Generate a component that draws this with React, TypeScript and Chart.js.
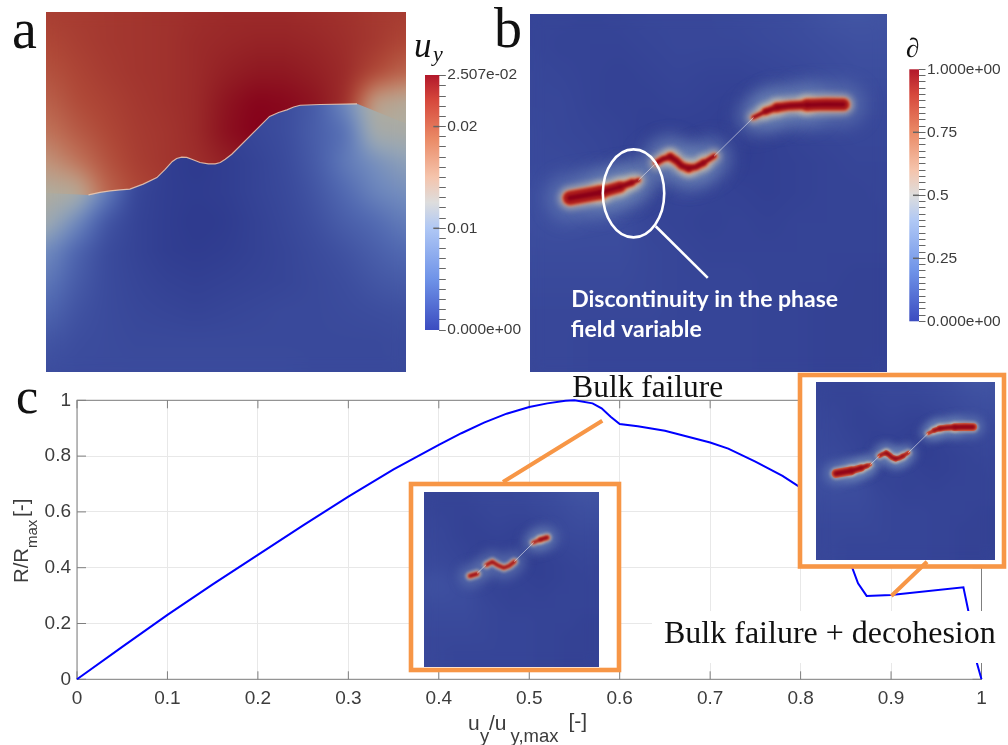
import React, { useEffect, useRef } from "react";
import { Chart, registerables } from "chart.js";

Chart.register(...registerables);

// ---------- Panel c: reaction curve ----------
const curveX = [0, 0.05, 0.1, 0.15, 0.2, 0.25, 0.3, 0.35, 0.4, 0.425, 0.45, 0.475, 0.5, 0.52, 0.54, 0.55, 0.57, 0.58, 0.59, 0.6, 0.62, 0.65, 0.7, 0.72, 0.75, 0.78, 0.8, 0.81, 0.82, 0.84, 0.855, 0.8635, 0.873, 0.9, 0.98, 0.986, 0.995, 1];
const curveY = [0, 0.116, 0.231, 0.34, 0.446, 0.552, 0.655, 0.752, 0.84, 0.882, 0.92, 0.952, 0.976, 0.989, 0.998, 1, 0.989, 0.971, 0.941, 0.915, 0.907, 0.891, 0.849, 0.827, 0.78, 0.729, 0.687, 0.665, 0.635, 0.54, 0.418, 0.344, 0.299, 0.302, 0.33, 0.237, 0.057, 0];

// ---------- Panel a: displacement field (colour position 0..1), grid of 13 x 13 ----------
const upperField = [
  [.83,.84,.85,.86,.87,.88,.89,.89,.89,.88,.87,.85,.84],
  [.80,.83,.85,.86,.87,.89,.90,.91,.91,.90,.88,.85,.80],
  [.77,.81,.84,.86,.87,.89,.92,.94,.94,.92,.89,.80,.72],
  [.73,.79,.82,.85,.87,.89,.95,.99,.98,.95,.88,.56,.52],
  [.68,.75,.80,.84,.86,.89,.96,1,.98,.94,.85,.50,.48],
  [.60,.68,.77,.83,.86,.88,.92,.95,.95,.90,.80,.50,.48],
  [.50,.52,.72,.80,.84,.86,.88,.90,.90,.88,.80,.50,.48],
  [.50,.52,.72,.80,.84,.86,.88,.90,.90,.88,.80,.50,.48],
  [.50,.52,.72,.80,.84,.86,.88,.90,.90,.88,.80,.50,.48],
  [.50,.52,.72,.80,.84,.86,.88,.90,.90,.88,.80,.50,.48],
  [.50,.52,.72,.80,.84,.86,.88,.90,.90,.88,.80,.50,.48],
  [.50,.52,.72,.80,.84,.86,.88,.90,.90,.88,.80,.50,.48],
  [.50,.52,.72,.80,.84,.86,.88,.90,.90,.88,.80,.50,.48],
];
const lowerField = [
  [.5,.48,.3,.1,.02,.02,.05,.08,.1,.15,.3,.5,.5],
  [.5,.48,.3,.1,.02,.02,.05,.08,.1,.15,.3,.5,.5],
  [.5,.48,.3,.1,.02,.02,.05,.08,.1,.15,.3,.5,.5],
  [.5,.48,.3,.1,.02,.02,.05,.08,.1,.15,.3,.5,.5],
  [.5,.48,.32,.12,.04,.02,.04,.07,.10,.16,.22,.46,.47],
  [.5,.48,.3,.1,.02,0,.02,.05,.09,.15,.25,.32,.38],
  [.5,.47,.26,.06,.02,.01,.02,.05,.08,.13,.2,.28,.32],
  [.44,.30,.13,.05,.02,0,.01,.04,.07,.11,.16,.2,.26],
  [.31,.18,.09,.05,.02,.01,.02,.04,.06,.09,.12,.16,.2],
  [.25,.15,.09,.06,.04,.03,.04,.05,.06,.08,.10,.13,.15],
  [.19,.12,.09,.07,.06,.05,.06,.07,.08,.08,.09,.1,.11],
  [.13,.1,.09,.08,.08,.08,.08,.08,.08,.08,.08,.08,.09],
  [.1,.09,.09,.09,.09,.09,.09,.09,.09,.08,.08,.08,.08],
];
const crackA = [[.118,.508],[.15,.501],[.178,.497],[.206,.494],[.233,.492],[.27,.478],[.308,.460],[.331,.437],[.351,.415],[.363,.407],[.377,.403],[.391,.404],[.405,.409],[.428,.418],[.451,.422],[.470,.422],[.484,.418],[.498,.409],[.516,.395],[.621,.290],[.646,.279],[.669,.272],[.688,.264],[.706,.259],[.762,.257],[.864,.255]];
const crackLeftEnd = [0, .503];
const crackRightEnd = [1, .31];

// ---------- Panel b: phase field background and damage bands ----------
const phaseField = [
  [.06,.06,.05,.06,.07,.07,.07,.08,.09,.10,.12,.13,.12],
  [.06,.05,.05,.05,.06,.07,.07,.07,.08,.09,.10,.11,.11],
  [.07,.06,.05,.04,.05,.06,.05,.05,.06,.07,.09,.10,.10],
  [.07,.07,.05,.04,.04,.05,.04,.03,.05,.08,.08,.08,.08],
  [.08,.07,.06,.05,.03,.03,.03,.01,.03,.05,.06,.07,.07],
  [.08,.08,.07,.05,.02,.05,.06,.02,.03,.04,.05,.06,.06],
  [.10,.12,.09,.08,.03,.06,.05,.04,.03,.04,.05,.05,.06],
  [.10,.11,.10,.10,.06,.05,.04,.05,.04,.05,.05,.05,.05],
  [.09,.09,.09,.09,.07,.06,.05,.05,.05,.05,.05,.05,.05],
  [.08,.08,.08,.08,.07,.06,.06,.06,.05,.05,.05,.04,.04],
  [.07,.07,.07,.07,.07,.06,.06,.06,.05,.05,.04,.04,.04],
  [.07,.07,.06,.06,.06,.06,.06,.06,.05,.05,.04,.04,.04],
  [.07,.07,.06,.06,.06,.06,.06,.06,.05,.05,.04,.04,.05],
];
const bandsB = [
  { pts: [[.112,.514],[.196,.499]], w: 13 },
  { pts: [[.196,.499],[.252,.483]], w: 10 },
  { pts: [[.252,.483],[.285,.471]], w: 6 },
  { pts: [[.285,.471],[.304,.464]], w: 3 },
  { pts: [[.355,.415],[.372,.405],[.393,.399]], w: 5 },
  { pts: [[.393,.399],[.41,.41],[.425,.424],[.444,.431]], w: 7 },
  { pts: [[.444,.431],[.465,.427],[.486,.416]], w: 6 },
  { pts: [[.486,.416],[.516,.397]], w: 4 },
  { pts: [[.626,.289],[.66,.272]], w: 3 },
  { pts: [[.66,.272],[.692,.261]], w: 6 },
  { pts: [[.692,.261],[.73,.256],[.776,.254]], w: 8 },
  { pts: [[.776,.254],[.83,.252],[.878,.253]], w: 11 },
];
const bandsSmall = [
  { pts: [[.262,.48],[.303,.468]], w: 3 },
  { pts: [[.357,.417],[.39,.398],[.42,.418],[.456,.434],[.487,.422],[.517,.398]], w: 2.5 },
  { pts: [[.624,.289],[.665,.272]], w: 2 },
  { pts: [[.665,.272],[.704,.26]], w: 3.5 },
];
const gapB = [[.304,.464],[.355,.415]];
const gapB2 = [[.516,.397],[.626,.289]];
const pointerLine = [[.352,.593],[.498,.737]];
const noteLines = ["Discontinuity in the phase", "field variable"];

// ---------- Colour bars ----------
const barATicks = [0,.001,.002,.003,.004,.005,.006,.007,.008,.009,.01,.011,.012,.013,.014,.015,.016,.017,.018,.019,.02,.021,.022,.023,.024,.02507];
const barALabels: Record<string,string> = { "0":"0.000e+00", "0.01":"0.01", "0.02":"0.02", "0.02507":"2.507e-02" };
const barBTicks = [0,.025,.05,.075,.1,.125,.15,.175,.2,.225,.25,.275,.3,.325,.35,.375,.4,.425,.45,.475,.5,.525,.55,.575,.6,.625,.65,.675,.7,.725,.75,.775,.8,.825,.85,.875,.9,.925,.95,.975,1];
const barBLabels: Record<string,string> = { "0":"0.000e+00", "0.25":"0.25", "0.5":"0.5", "0.75":"0.75", "1":"1.000e+00" };

const fieldStops: [number, number[]][] = [
  [0,[46,58,142]],[.1,[60,77,158]],[.2,[82,106,178]],[.3,[112,138,190]],[.4,[150,166,182]],[.5,[176,172,158]],
  [.6,[192,150,125]],[.7,[190,110,85]],[.8,[175,72,55]],[.87,[160,50,45]],[.93,[145,28,35]],[1,[133,0,26]],
];
const barStops: [number, string][] = [
  [0,"#3b4cc0"],[.2,"#6f93e8"],[.4,"#b0c8f5"],[.5,"#dddddd"],[.6,"#f5c4ac"],[.75,"#ea8a66"],[.9,"#d6483c"],[1,"#b2182b"],
];

const SANS = '"Liberation Sans", Arial, sans-serif';
const SERIF = '"Liberation Serif", serif';
const ORANGE = "#f79646";
const TEXT = "#3c3c3c";

function fieldColor(t: number) {
  for (let i = 1; i < fieldStops.length; i++) {
    if (t <= fieldStops[i][0]) {
      const [a, ca] = fieldStops[i - 1];
      const [b, cb] = fieldStops[i];
      const f = (t - a) / (b - a);
      return ca.map((c, k) => c + (cb[k] - c) * f);
    }
  }
  return fieldStops[fieldStops.length - 1][1];
}

function fieldImage(grid: number[][], w: number, h: number) {
  const c = document.createElement("canvas");
  c.width = w; c.height = h;
  const ctx = c.getContext("2d")!;
  const img = ctx.createImageData(w, h);
  const rows = grid.length, cols = grid[0].length;
  for (let y = 0; y < h; y++) {
    const gy = (y / (h - 1)) * (rows - 1);
    const r0 = Math.min(Math.floor(gy), rows - 2), fy = gy - r0;
    for (let x = 0; x < w; x++) {
      const gx = (x / (w - 1)) * (cols - 1);
      const c0 = Math.min(Math.floor(gx), cols - 2), fx = gx - c0;
      const v = (grid[r0][c0] * (1 - fx) + grid[r0][c0 + 1] * fx) * (1 - fy) + (grid[r0 + 1][c0] * (1 - fx) + grid[r0 + 1][c0 + 1] * fx) * fy;
      const col = fieldColor(v);
      const i = (y * w + x) * 4;
      img.data[i] = col[0]; img.data[i + 1] = col[1]; img.data[i + 2] = col[2]; img.data[i + 3] = 255;
    }
  }
  ctx.putImageData(img, 0, 0);
  // soften the grid creases
  const s = document.createElement("canvas");
  s.width = w; s.height = h;
  const sc = s.getContext("2d")!;
  sc.drawImage(c, 0, 0);
  sc.filter = "blur(7px)";
  sc.drawImage(c, 0, 0);
  return s;
}

const toXY = (pts: number[][]) => pts.map(([x, y]) => ({ x, y }));
const unitScales = {
  x: { type: "linear", min: 0, max: 1, display: false },
  y: { type: "linear", min: 0, max: 1, reverse: true, display: false },
};
const baseOptions = (scales: any, layout?: any) => ({
  responsive: false,
  animation: false,
  events: [],
  scales,
  layout: { padding: layout ?? 0 },
  elements: { point: { radius: 0 } },
  plugins: { legend: { display: false }, title: { display: false }, tooltip: { enabled: false } },
});

function bandDatasets(bands: { pts: number[][]; w: number }[], k: number, wk: number) {
  const layers = [
    { extra: 32 * k, color: "rgba(125,150,190,0.42)", blur: 9 * k, order: 5, mul: 1 },
    { extra: 10 * k, color: "rgba(225,210,175,0.55)", blur: 3 * k, order: 4, mul: 1 },
    { extra: 3.5 * k, color: "#d9744f", blur: 1.5 * k, order: 3, mul: 1 },
    { extra: 0, color: "#ad1c1c", blur: 1, order: 2, mul: 1 },
    { extra: 0, color: "#8b0018", blur: 1, order: 1, mul: 0.4 },
  ];
  const out: any[] = [];
  layers.forEach((l) =>
    bands.forEach((b) =>
      out.push({
        data: toXY(b.pts),
        showLine: true,
        borderColor: l.color,
        borderWidth: b.w * wk * l.mul + l.extra,
        borderCapStyle: "round",
        borderJoinStyle: "round",
        pointRadius: 0,
        blur: l.blur,
        order: l.order,
      })
    )
  );
  return out;
}

const blurPlugin = {
  id: "bandBlur",
  beforeDatasetDraw(chart: any, args: any) {
    const b = chart.data.datasets[args.index].blur;
    if (b) chart.ctx.filter = `blur(${b}px)`;
  },
  afterDatasetDraw(chart: any) {
    chart.ctx.filter = "none";
  },
};

function thinLine(pts: number[][], color: string, width: number) {
  return { data: toXY(pts), showLine: true, borderColor: color, borderWidth: width, pointRadius: 0, order: 0 };
}

function phaseChart(canvas: HTMLCanvasElement, bands: any, k: number, wk: number, extraData: any[], extraPlugins: any[]) {
  const img = fieldImage(phaseField, canvas.width, canvas.height);
  return new Chart(canvas, {
    type: "scatter",
    data: {
      datasets: [
        ...extraData,
        thinLine(gapB, "rgba(225,225,235,0.8)", 0.8),
        thinLine(gapB2, "rgba(225,225,235,0.8)", 0.8),
        ...bandDatasets(bands, k, wk),
      ],
    },
    options: baseOptions(unitScales) as any,
    plugins: [
      { id: "phaseBg", beforeDatasetsDraw(c: any) { c.ctx.drawImage(img, 0, 0); } },
      blurPlugin,
      ...extraPlugins,
    ],
  } as any);
}

function colorBar(canvas: HTMLCanvasElement, max: number, ticks: number[], labels: Record<string,string>, pad: any, title: (ctx: CanvasRenderingContext2D) => void) {
  return new Chart(canvas, {
    type: "scatter",
    data: { datasets: [{ data: [] }] },
    options: baseOptions(
      {
        x: { type: "linear", display: false, min: 0, max: 1 },
        y: {
          type: "linear",
          position: "right",
          min: 0,
          max,
          afterBuildTicks(s: any) { s.ticks = ticks.map((value) => ({ value })); },
          afterFit(s: any) { s.width = pad.axis; },
          border: { display: false },
          grid: { drawOnChartArea: false, drawTicks: true, tickLength: 6.5, tickColor: "#666", tickWidth: 1 },
          ticks: {
            autoSkip: false,
            padding: 1.5,
            color: TEXT,
            font: { family: SANS, size: 15.5 },
            callback: (v: number) => labels[String(v)] ?? "",
          },
        },
      },
      { left: pad.left, top: pad.top, bottom: pad.bottom, right: 0 }
    ) as any,
    plugins: [
      {
        id: "barFill",
        beforeDatasetsDraw(c: any) {
          const { left, right, top, bottom } = c.chartArea;
          const g = c.ctx.createLinearGradient(0, bottom, 0, top);
          barStops.forEach(([p, col]) => g.addColorStop(p, col));
          c.ctx.fillStyle = g;
          c.ctx.fillRect(left, top, right - left, bottom - top);
          c.ctx.strokeStyle = "#666";
          Object.keys(labels).forEach((k) => {
            const y = c.scales.y.getPixelForValue(Number(k));
            if (k === "0" || Number(k) === max) return;
            c.ctx.beginPath();
            c.ctx.moveTo(right - 6, y);
            c.ctx.lineTo(right, y);
            c.ctx.lineWidth = 1.5;
            c.ctx.stroke();
          });
          title(c.ctx);
        },
      },
    ],
  } as any);
}

function mainChart(canvas: HTMLCanvasElement) {
  const sub = (ctx: CanvasRenderingContext2D, parts: [string, string, number, number][]) => {
    parts.forEach(([t, font, x, y]) => { ctx.font = font; ctx.fillText(t, x, y); });
  };
  return new Chart(canvas, {
    type: "scatter",
    data: {
      datasets: [{
        data: curveX.map((x, i) => ({ x, y: curveY[i] })),
        showLine: true,
        borderColor: "#0000ff",
        borderWidth: 2,
        pointRadius: 0,
        tension: 0,
        clip: false,
      }],
    },
    options: baseOptions(
      {
        x: {
          type: "linear", min: 0, max: 1,
          afterFit(s: any) { s.height = 65.7; },
          border: { display: false },
          grid: { color: "#e8e8e8", lineWidth: 1, drawTicks: false },
          ticks: { stepSize: 0.1, padding: 8, color: TEXT, font: { family: SANS, size: 19 }, maxRotation: 0, callback: (v: number) => String(+v.toFixed(1)) },
        },
        y: {
          type: "linear", min: 0, max: 1,
          afterFit(s: any) { s.width = 77; },
          border: { display: false },
          grid: { color: "#e8e8e8", lineWidth: 1, drawTicks: false },
          ticks: { stepSize: 0.2, padding: 6, color: TEXT, font: { family: SANS, size: 19 }, callback: (v: number) => String(+v.toFixed(1)) },
        },
      },
      { left: 0, top: 400.3, right: 26.5, bottom: 0 }
    ) as any,
    plugins: [
      {
        id: "axesBox",
        beforeDatasetsDraw(c: any) {
          const ctx = c.ctx;
          const { left, right, top, bottom } = c.chartArea;
          ctx.save();
          ctx.strokeStyle = "#7f7f7f";
          ctx.lineWidth = 1;
          ctx.strokeRect(left, top, right - left, bottom - top);
          c.scales.x.ticks.forEach((t: any) => {
            const x = c.scales.x.getPixelForValue(t.value);
            ctx.beginPath();
            ctx.moveTo(x, bottom); ctx.lineTo(x, bottom - 8);
            ctx.moveTo(x, top); ctx.lineTo(x, top + 8);
            ctx.stroke();
          });
          c.scales.y.ticks.forEach((t: any) => {
            const y = c.scales.y.getPixelForValue(t.value);
            ctx.beginPath();
            ctx.moveTo(left, y); ctx.lineTo(left + 9, y);
            ctx.moveTo(right, y); ctx.lineTo(right - 9, y);
            ctx.stroke();
          });
          ctx.restore();
        },
        afterDatasetsDraw(c: any) {
          const ctx = c.ctx;
          ctx.save();
          // white patches and inset frames
          ctx.fillStyle = "#fff";
          ctx.fillRect(652, 611, 356, 52);
          ctx.fillRect(411, 484, 208, 186);
          ctx.fillRect(800, 375, 204, 191.5);
          ctx.strokeStyle = ORANGE;
          ctx.lineWidth = 4.6;
          ctx.strokeRect(411, 484, 208, 186);
          ctx.strokeRect(800, 375, 204, 191.5);
          ctx.lineWidth = 4;
          ctx.beginPath();
          ctx.moveTo(602.3, 420.7); ctx.lineTo(503, 482);
          ctx.moveTo(927, 561.7); ctx.lineTo(891.3, 596);
          ctx.stroke();
          // texts
          ctx.fillStyle = "#111";
          ctx.textAlign = "left";
          ctx.textBaseline = "alphabetic";
          ctx.font = `56px ${SERIF}`;
          ctx.fillText("a", 12, 48);
          ctx.fillText("b", 494, 47);
          ctx.font = `50px ${SERIF}`;
          ctx.fillText("c", 16, 413);
          ctx.font = `31.4px ${SERIF}`;
          ctx.fillText("Bulk failure", 572.3, 396.7);
          ctx.font = `32px ${SERIF}`;
          ctx.fillText("Bulk failure + decohesion", 664, 642.7);
          // axis titles
          ctx.fillStyle = TEXT;
          sub(ctx, [
            ["u", `21px ${SANS}`, 468, 730],
            ["y", `18.5px ${SANS}`, 480, 741.7],
            ["/u", `21px ${SANS}`, 489, 730],
            ["y,max", `18.5px ${SANS}`, 510.5, 741.7],
            ["[-]", `21px ${SANS}`, 568.5, 728],
          ]);
          ctx.translate(28, 583);
          ctx.rotate(-Math.PI / 2);
          sub(ctx, [
            ["R/R", `20.3px ${SANS}`, 0, 0],
            ["max", `15px ${SANS}`, 35, 9],
            ["[-]", `21px ${SANS}`, 66, 0],
          ]);
          ctx.restore();
        },
      },
    ],
  } as any);
}

function panelA(canvas: HTMLCanvasElement) {
  const upper = fieldImage(upperField, canvas.width, canvas.height);
  const lower = fieldImage(lowerField, canvas.width, canvas.height);
  return new Chart(canvas, {
    type: "scatter",
    data: { datasets: [{ data: toXY(crackA), showLine: true, borderColor: "rgba(238,205,180,0.85)", borderWidth: 1.2, pointRadius: 0, tension: 0 }] },
    options: baseOptions(unitScales) as any,
    plugins: [
      {
        id: "displacementField",
        beforeDatasetsDraw(c: any) {
          const ctx = c.ctx, sx = c.scales.x, sy = c.scales.y;
          const px = ([x, y]: number[]) => [sx.getPixelForValue(x), sy.getPixelForValue(y)];
          ctx.drawImage(lower, 0, 0);
          ctx.save();
          ctx.beginPath();
          const poly = [[0, 0], [1, 0], crackRightEnd, ...[...crackA].reverse(), crackLeftEnd];
          poly.forEach((p, i) => {
            const [x, y] = px(p);
            if (i === 0) ctx.moveTo(x, y); else ctx.lineTo(x, y);
          });
          ctx.closePath();
          ctx.clip();
          ctx.drawImage(upper, 0, 0);
          ctx.restore();
        },
      },
    ],
  } as any);
}

const notePlugin = {
  id: "noteText",
  afterDatasetsDraw(c: any) {
    const ctx = c.ctx, sx = c.scales.x, sy = c.scales.y;
    ctx.save();
    ctx.strokeStyle = "#fff";
    ctx.lineWidth = 2.6;
    ctx.beginPath();
    ctx.ellipse(sx.getPixelForValue(.29), sy.getPixelForValue(.501), 30.7, 44, 0, 0, Math.PI * 2);
    ctx.stroke();
    ctx.fillStyle = "#fff";
    ctx.font = `bold 23px Lato, "Open Sans", sans-serif`;
    ctx.textAlign = "left";
    ctx.fillText(noteLines[0], 41.2, 292.7);
    ctx.fillText(noteLines[1], 40.7, 322.7);
    ctx.restore();
  },
};

export default function App() {
  const refs = useRef<Record<string, HTMLCanvasElement | null>>({});
  useEffect(() => {
    const r = refs.current as Record<string, HTMLCanvasElement>;
    const charts = [
      mainChart(r.main),
      panelA(r.a),
      colorBar(r.barA, 0.02507, barATicks, barALabels, { left: 15, top: 45, bottom: 20, axis: 85.7 }, (ctx) => {
        ctx.save();
        ctx.fillStyle = "#111";
        ctx.font = `italic 35px ${SERIF}`;
        ctx.fillText("u", 4, 27);
        ctx.font = `italic 22px ${SERIF}`;
        ctx.fillText("y", 23, 31);
        ctx.restore();
      }),
      phaseChart(r.b, bandsB, 1, 1, [thinLine(pointerLine, "#fff", 2.6)], [notePlugin]),
      colorBar(r.barB, 1, barBTicks, barBLabels, { left: 9.3, top: 39.3, bottom: 18.7, axis: 89 }, (ctx) => {
        ctx.save();
        ctx.fillStyle = "#111";
        ctx.font = `27px ${SERIF}`;
        ctx.fillText("∂", 6, 27);
        ctx.restore();
      }),
      phaseChart(r.inset1, bandsSmall, 0.6, 1, [], []),
      phaseChart(r.inset2, bandsB, 0.5, 0.55, [], []),
    ];
    return () => charts.forEach((c) => c.destroy());
  }, []);

  const cv = (key: string, left: number, top: number, w: number, h: number) => (
    <canvas
      ref={(el) => { refs.current[key] = el; }}
      width={w}
      height={h}
      style={{ position: "absolute", left, top, width: w, height: h, display: "block" }}
    />
  );

  return (
    <div style={{ position: "absolute", left: 0, top: 0, width: 1008, height: 745, background: "#fff", overflow: "hidden" }}>
      {cv("main", 0, 0, 1008, 745)}
      {cv("a", 46, 12, 360, 360)}
      {cv("barA", 410, 30, 115, 320)}
      {cv("b", 530, 14, 357, 358)}
      {cv("barB", 900, 30, 108, 310)}
      {cv("inset1", 424, 492, 175, 175)}
      {cv("inset2", 816, 382, 179, 178)}
    </div>
  );
}
